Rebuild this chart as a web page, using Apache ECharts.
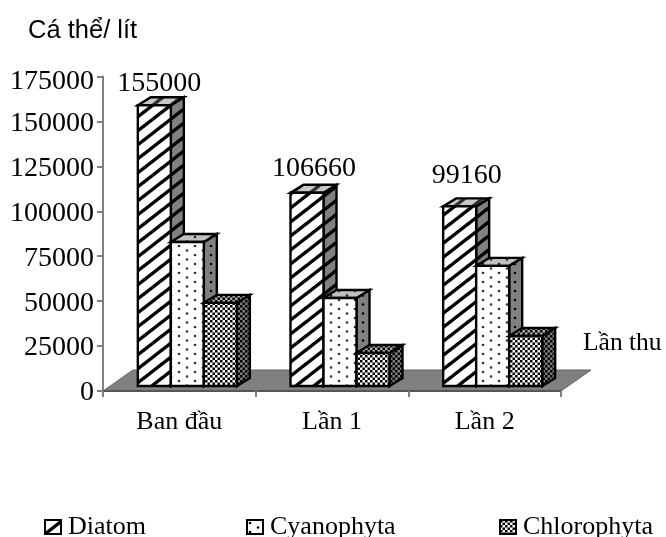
<!DOCTYPE html>
<html>
<head>
<meta charset="utf-8">
<style>html,body{margin:0;padding:0;background:#fff}#main{width:666px;height:537px}</style>
<script src="https://cdn.jsdelivr.net/npm/echarts@6/dist/echarts.min.js"></script>
</head>
<body>
<div id="main"></div>
<script>
// Sampling rounds and cell densities per algal group
const rounds = ['Ban đầu', 'Lần 1', 'Lần 2'];
const diatom = [155000, 106660, 99160];
const cyanophyta = [79500, 48600, 66300];
const chlorophyta = [45900, 18200, 27600];
const yTicks = [0, 25000, 50000, 75000, 100000, 125000, 150000, 175000];

// Box geometry of the pseudo-3D columns
const BAR_W = 33, DEPTH_X = 13, DEPTH_Y = 8, FRONT_LIFT = 5, FRONT_SCALE = 1.008, GROUP_SHIFT = 8;
const SERIF = '"Liberation Serif", "Times New Roman", serif';

function tile(w, h, paint) {
  const c = document.createElement('canvas');
  c.width = w; c.height = h;
  paint(c.getContext('2d'), w, h);
  return { image: c, repeat: 'repeat' };
}
function hatch(bg, ink) {
  return tile(18, 14, (g, w, h) => {
    g.fillStyle = bg; g.fillRect(0, 0, w, h);
    g.filter = 'blur(0.5px)';
    g.strokeStyle = ink; g.lineWidth = 3.4;
    for (const k of [-1, 0, 1]) {
      g.beginPath(); g.moveTo((k - 1) * w, 2 * h); g.lineTo((k + 2) * w, -h); g.stroke();
    }
  });
}
function dots(bg, ink) {
  return tile(16, 18, (g, w, h) => {
    g.fillStyle = bg; g.fillRect(0, 0, w, h);
    g.fillStyle = ink;
    for (const [x, y] of [[3, 3], [11, 7.5], [3, 12], [11, 16.5]]) {
      g.beginPath(); g.arc(x, y, 1.3, 0, 7); g.fill();
    }
  });
}
function checks(bg, ink) {
  return tile(5, 5, (g, w, h) => {
    g.fillStyle = bg; g.fillRect(0, 0, w, h);
    g.fillStyle = ink;
    g.fillRect(0, 0, 2.5, 2.5); g.fillRect(2.5, 2.5, 2.5, 2.5);
  });
}

const faces = {
  Diatom: { front: hatch('#fff', '#000'), side: hatch('#808080', '#000'), top: hatch('#c8c8c8', '#303030'), legend: hatch('#fff', '#000') },
  Cyanophyta: { front: dots('#fff', '#333'), side: dots('#808080', '#000'), top: dots('#c0c0c0', '#222'), legend: dots('#fff', '#000') },
  Chlorophyta: { front: checks('#fff', '#000'), side: checks('#808080', '#000'), top: checks('#b0b0b0', '#000'), legend: checks('#fff', '#000') }
};

// Nudges of the value labels relative to the top of each Diatom column
const labelNudge = [[-1, -14], [1, -16], [1, -23]];
// Left edge of each legend entry
const legendLeft = { Diatom: 39, Cyanophyta: 241, Chlorophyta: 494 };

function boxRenderer(name, slot, labelled) {
  const f = faces[name];
  return function (params, api) {
    const idx = api.value(0), val = api.value(1);
    const base = api.coord([idx, 0]);
    const peak = api.coord([idx, val]);
    const x0 = base[0] + GROUP_SHIFT + (slot - 1.5) * BAR_W;
    const x1 = x0 + BAR_W;
    const yB = base[1] - FRONT_LIFT;
    const yT = yB - (base[1] - peak[1]) * FRONT_SCALE;
    const edge = { stroke: '#000', lineWidth: 2.4, lineJoin: 'miter' };
    const poly = (pts, fill) => ({ type: 'polygon', shape: { points: pts }, style: Object.assign({ fill }, edge) });
    const children = [
      poly([[x1, yT], [x1 + DEPTH_X, yT - DEPTH_Y], [x1 + DEPTH_X, yB - DEPTH_Y], [x1, yB]], f.side),
      poly([[x0, yT], [x0 + DEPTH_X, yT - DEPTH_Y], [x1 + DEPTH_X, yT - DEPTH_Y], [x1, yT]], f.top),
      poly([[x0, yT], [x1, yT], [x1, yB], [x0, yB]], f.front)
    ];
    if (labelled) {
      const n = labelNudge[idx];
      children.push({
        type: 'text',
        style: {
          text: String(val), x: (x0 + x1) / 2 + n[0] + 6, y: yT - DEPTH_Y + n[1],
          fill: '#000', font: '28px ' + SERIF, align: 'center', verticalAlign: 'middle'
        }
      });
    }
    return { type: 'group', children };
  };
}

function boxSeries(name, values, slot, labelled) {
  return {
    name, type: 'custom', z: 2, clip: false,
    renderItem: boxRenderer(name, slot, labelled),
    data: values.map((v, i) => [i, v])
  };
}

const floorSeries = {
  name: 'floor', type: 'custom', z: 0, clip: false, silent: true,
  renderItem(params, api) {
    const s = params.coordSys, b = s.y + s.height, r = s.x + s.width;
    return {
      type: 'polygon',
      shape: { points: [[s.x, b], [s.x + 30, b - 21], [r + 30, b - 21], [r, b]] },
      style: { fill: '#808080', stroke: '#606060', lineWidth: 1 }
    };
  },
  data: [[0, 0]]
};

const chart = echarts.init(document.getElementById('main'));
chart.setOption({
  animation: false,
  backgroundColor: '#fff',
  title: {
    text: 'Cá thể/ lít', left: 23, top: 13,
    textStyle: { fontFamily: '"Liberation Sans", Arial, sans-serif', fontSize: 25.5, fontWeight: 'normal', color: '#000' }
  },
  grid: { left: 103, right: 105, top: 76.5, bottom: 146 },
  legend: Object.keys(faces).map(n => ({
    left: legendLeft[n], top: 509, itemWidth: 16, itemHeight: 14, selectedMode: false,
    textStyle: { fontFamily: SERIF, fontSize: 26, color: '#000', padding: [0, 0, 0, 2] },
    data: [{
      name: n, icon: 'rect',
      itemStyle: { color: faces[n].legend, borderColor: '#000', borderWidth: 2 }
    }]
  })),
  graphic: [{
    type: 'text', left: 583, top: 330,
    style: { text: 'Lần thu', fill: '#000', font: '25.5px ' + SERIF }
  }],
  xAxis: {
    type: 'category', data: rounds, z: 1,
    axisLine: { lineStyle: { color: '#555', width: 2 } },
    axisTick: { show: true, length: 6, lineStyle: { color: '#808080', width: 2 } },
    axisLabel: { fontFamily: SERIF, fontSize: 26, color: '#000', margin: 18 },
    splitLine: { show: false }
  },
  yAxis: {
    type: 'value', min: 0, max: yTicks[yTicks.length - 1], interval: yTicks[1], z: 1,
    axisLine: { show: true, lineStyle: { color: '#808080', width: 2 } },
    axisTick: { show: true, length: 6, lineStyle: { color: '#808080', width: 2 } },
    axisLabel: {
      color: '#000', margin: 9,
      formatter: v => (v === yTicks[yTicks.length - 1] ? '{top|' + v + '}' : '{n|' + v + '}'),
      rich: {
        n: { fontFamily: SERIF, fontSize: 28, color: '#000', padding: [4, 0, 0, 0] },
        top: { fontFamily: SERIF, fontSize: 28, color: '#000', padding: [10, 0, 0, 0] }
      }
    },
    splitLine: { show: false }
  },
  series: [
    floorSeries,
    boxSeries('Diatom', diatom, 0, true),
    boxSeries('Cyanophyta', cyanophyta, 1, false),
    boxSeries('Chlorophyta', chlorophyta, 2, false)
  ]
});
</script>
</body>
</html>
